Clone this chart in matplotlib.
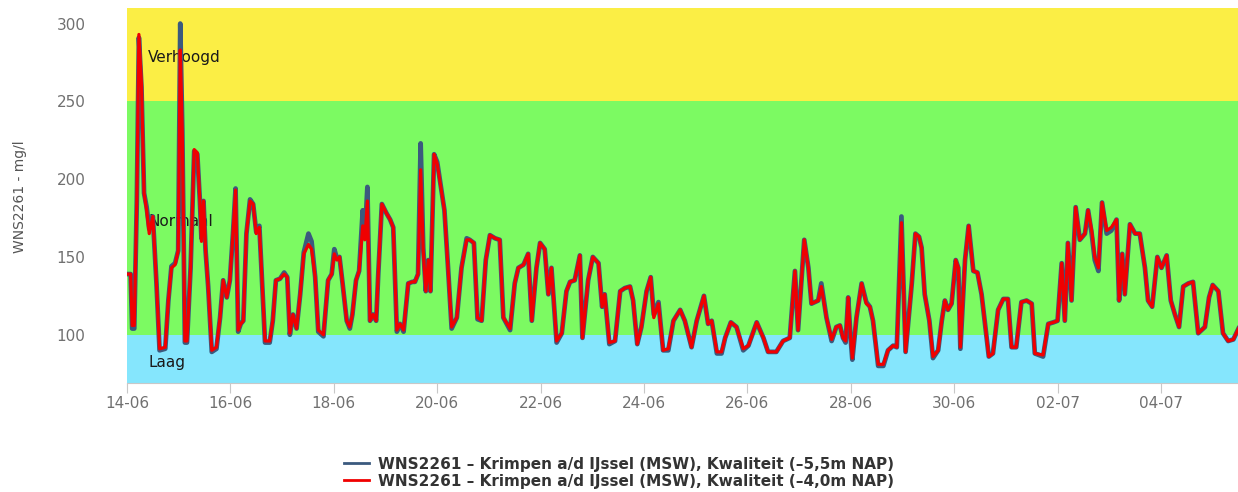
import pandas as pd
import matplotlib
matplotlib.use("Agg")
import matplotlib.pyplot as plt
import matplotlib.dates as mdates

# tijdstippen in dagen vanaf 14-06 00:00
days = [
    0.0, 0.07, 0.1, 0.14, 0.19, 0.23, 0.28, 0.33, 0.38, 0.43,
    0.5, 0.57, 0.63, 0.74, 0.8, 0.86, 0.93, 0.99, 1.03, 1.07,
    1.12, 1.16, 1.23, 1.3, 1.36, 1.41, 1.44, 1.48, 1.52, 1.57,
    1.64, 1.73, 1.8, 1.86, 1.93, 1.99, 2.05, 2.1, 2.15, 2.2,
    2.25, 2.31, 2.38, 2.44, 2.5, 2.56, 2.6, 2.67, 2.76, 2.82,
    2.88, 2.96, 3.04, 3.1, 3.15, 3.21, 3.28, 3.35, 3.42, 3.51,
    3.57, 3.64, 3.7, 3.8, 3.89, 3.96, 4.01, 4.06, 4.11, 4.17,
    4.25, 4.31, 4.36, 4.43, 4.49, 4.56, 4.6, 4.65, 4.7, 4.76,
    4.82, 4.86, 4.93, 5.02, 5.09, 5.15, 5.22, 5.28, 5.35, 5.44,
    5.52, 5.57, 5.63, 5.68, 5.73, 5.78, 5.83, 5.87, 5.94, 6.0,
    6.09, 6.14, 6.21, 6.28, 6.38, 6.47, 6.57, 6.63, 6.71, 6.78,
    6.86, 6.94, 7.02, 7.12, 7.21, 7.28, 7.41, 7.5, 7.57, 7.67,
    7.76, 7.83, 7.92, 7.99, 8.08, 8.15, 8.21, 8.31, 8.41, 8.5,
    8.57, 8.66, 8.76, 8.81, 8.92, 9.01, 9.12, 9.19, 9.24, 9.33,
    9.44, 9.54, 9.63, 9.73, 9.79, 9.87, 9.95, 10.05, 10.13, 10.19,
    10.28, 10.37, 10.47, 10.57, 10.7, 10.79, 10.92, 11.02, 11.16, 11.24,
    11.31, 11.41, 11.5, 11.57, 11.68, 11.79, 11.92, 12.02, 12.18, 12.31,
    12.4, 12.56, 12.69, 12.82, 12.92, 12.98, 13.1, 13.18, 13.24, 13.37,
    13.43, 13.53, 13.63, 13.72, 13.79, 13.85, 13.9, 13.95, 13.99, 14.03,
    14.11, 14.21, 14.3, 14.37, 14.43, 14.53, 14.63, 14.72, 14.82, 14.89,
    14.98, 15.06, 15.18, 15.25, 15.32, 15.37, 15.43, 15.52, 15.59, 15.69,
    15.76, 15.82, 15.88, 15.95, 16.03, 16.08, 16.12, 16.21, 16.28, 16.37,
    16.45, 16.53, 16.59, 16.67, 16.75, 16.85, 16.95, 17.04, 17.11, 17.2,
    17.3, 17.4, 17.5, 17.56, 17.72, 17.82, 17.92, 18.0, 18.08, 18.14,
    18.2, 18.27, 18.35, 18.43, 18.53, 18.59, 18.66, 18.72, 18.79, 18.86,
    18.95, 19.04, 19.14, 19.19, 19.25, 19.3, 19.4, 19.5, 19.59, 19.69,
    19.75, 19.83, 19.93, 20.01, 20.11, 20.19, 20.27, 20.35, 20.43, 20.53,
    20.62, 20.72, 20.85, 20.93, 21.0, 21.11, 21.2, 21.3, 21.4, 21.5,
]

# -5,5m NAP
blue_vals = [
    139, 139, 104, 104, 186, 291, 259, 191, 182, 168,
    176, 133, 90, 91, 122, 144, 146, 154, 300, 231,
    95, 95, 143, 218, 216, 186, 162, 186, 154, 131,
    89, 91, 111, 135, 124, 135, 165, 194, 102, 107,
    109, 165, 187, 184, 166, 170, 143, 95, 95, 109,
    135, 136, 140, 137, 100, 113, 104, 126, 153, 165,
    160, 137, 102, 99, 135, 139, 155, 149, 150, 133,
    109, 104, 113, 135, 141, 180, 163, 195, 109, 113,
    109, 139, 184, 178, 174, 169, 102, 107, 102, 133,
    134, 134, 139, 223, 156, 128, 148, 128, 216, 211,
    191, 180, 143, 104, 111, 143, 162, 161, 159, 110,
    109, 148, 164, 162, 161, 111, 103, 133, 143, 145,
    152, 109, 143, 159, 155, 126, 143, 95, 101, 128,
    134, 135, 151, 98, 135, 150, 146, 118, 126, 94,
    96, 128, 130, 131, 122, 94, 105, 128, 137, 113,
    121, 90, 90, 109, 116, 109, 92, 109, 125, 107,
    109, 88, 88, 98, 108, 105, 90, 93, 108, 98,
    89, 89, 96, 98, 141, 103, 161, 143, 120, 122,
    133, 111, 96, 105, 106, 98, 95, 124, 101, 84,
    111, 133, 121, 118, 109, 80, 80, 90, 93, 92,
    176, 89, 133, 165, 163, 156, 126, 109, 85, 90,
    109, 122, 116, 120, 148, 143, 91, 148, 170, 141,
    140, 126, 109, 86, 88, 116, 123, 123, 92, 92,
    121, 122, 120, 88, 86, 107, 108, 109, 146, 109,
    159, 122, 182, 161, 165, 180, 165, 148, 141, 185,
    165, 167, 174, 122, 152, 126, 171, 165, 165, 143,
    122, 118, 150, 143, 151, 122, 113, 105, 131, 133,
    134, 101, 105, 124, 132, 128, 101, 96, 97, 104,
]

# -4,0m NAP
red_vals = [
    139, 139, 106, 106, 186, 293, 261, 191, 180, 165,
    176, 133, 91, 92, 122, 143, 145, 154, 283, 229,
    96, 96, 143, 219, 217, 186, 160, 186, 154, 131,
    90, 92, 111, 135, 124, 135, 165, 193, 103, 107,
    109, 165, 186, 184, 165, 169, 143, 96, 96, 109,
    135, 136, 139, 137, 101, 113, 104, 126, 152, 158,
    155, 137, 103, 100, 135, 139, 152, 148, 150, 133,
    109, 105, 113, 135, 141, 170, 161, 186, 109, 113,
    109, 139, 184, 178, 174, 169, 103, 107, 103, 133,
    134, 134, 139, 206, 154, 128, 148, 128, 216, 210,
    191, 180, 143, 105, 111, 143, 161, 161, 159, 111,
    109, 148, 164, 162, 161, 111, 104, 133, 143, 145,
    152, 109, 143, 159, 155, 126, 143, 96, 101, 128,
    134, 135, 151, 98, 135, 150, 146, 118, 126, 95,
    96, 128, 130, 131, 122, 94, 105, 128, 137, 111,
    120, 90, 91, 109, 116, 109, 92, 109, 125, 107,
    109, 89, 89, 98, 108, 105, 91, 93, 108, 98,
    89, 89, 96, 98, 141, 103, 161, 143, 120, 122,
    131, 111, 97, 105, 106, 98, 96, 124, 101, 85,
    111, 133, 120, 118, 109, 81, 81, 90, 93, 92,
    172, 89, 133, 165, 163, 156, 126, 109, 86, 90,
    109, 122, 116, 120, 148, 143, 92, 148, 170, 141,
    140, 126, 109, 86, 88, 116, 123, 123, 92, 92,
    121, 122, 120, 88, 87, 107, 108, 109, 146, 109,
    159, 122, 182, 161, 165, 180, 167, 150, 143, 185,
    167, 169, 174, 122, 152, 126, 171, 165, 165, 143,
    122, 118, 150, 143, 151, 122, 113, 105, 131, 133,
    134, 101, 105, 124, 132, 128, 101, 96, 97, 104,
]

# klassegrenzen chloride (mg/l)
band_edges = [60, 100, 250, 320]
band_names = ["Laag", "Normaal", "Verhoogd"]
band_label_y = [82, 173, 278]
band_colors = ["#85e6fd", "#7cfa62", "#fbee45"]

label_blue = "WNS2261 \u2013 Krimpen a/d IJssel (MSW), Kwaliteit (\u20135,5m NAP)"
label_red = "WNS2261 \u2013 Krimpen a/d IJssel (MSW), Kwaliteit (\u20134,0m NAP)"

start = pd.Timestamp("2018-06-14")
times = start + pd.to_timedelta(days, unit="D")

fig = plt.figure(figsize=(12.38, 4.92), dpi=100)
ax = fig.add_axes([127 / 1238, 109 / 492, 1111 / 1238, 375 / 492])

# achtergrondbanden
for lo, hi, c in zip(band_edges[:-1], band_edges[1:], band_colors):
    ax.axhspan(lo, hi, color=c, lw=0, zorder=0)
for name, yv in zip(band_names, band_label_y):
    ax.text(0.019, yv, name, transform=ax.get_yaxis_transform(),
            fontsize=11, color="#1a1a1a", va="center", ha="left", zorder=1)

ax.plot(times, blue_vals, color="#3b5a7e", lw=3.4, zorder=2, label=label_blue)
ax.plot(times, red_vals, color="#f00000", lw=2.3, zorder=3, label=label_red)

ax.set_ylim(69, 310)
ax.set_xlim(start, start + pd.Timedelta(days=21.49))
ax.set_yticks([100, 150, 200, 250, 300])
ax.xaxis.set_major_locator(mdates.DayLocator(interval=2))
ax.xaxis.set_major_formatter(mdates.DateFormatter("%d-%m"))

for side in ["top", "right", "left"]:
    ax.spines[side].set_visible(False)
ax.spines["bottom"].set_color("#c8c8c8")
ax.tick_params(axis="y", length=0, pad=30, labelsize=11, labelcolor="#707070")
ax.tick_params(axis="x", length=7, color="#c8c8c8", pad=2, labelsize=11,
               labelcolor="#707070")

fig.text(20 / 1238, 0.6, "WNS2261 - mg/l", rotation=90, fontsize=10,
         color="#555555", ha="center", va="center")

leg = fig.legend(loc="upper center", bbox_to_anchor=(0.5, 0.1), frameon=False,
                 prop={"weight": "bold", "size": 11}, handlelength=1.6,
                 labelspacing=0.15, handletextpad=0.6)
for t in leg.get_texts():
    t.set_color("#333333")
for h in leg.legend_handles:
    h.set_linewidth(2)

fig.savefig("out.png", dpi=100)
